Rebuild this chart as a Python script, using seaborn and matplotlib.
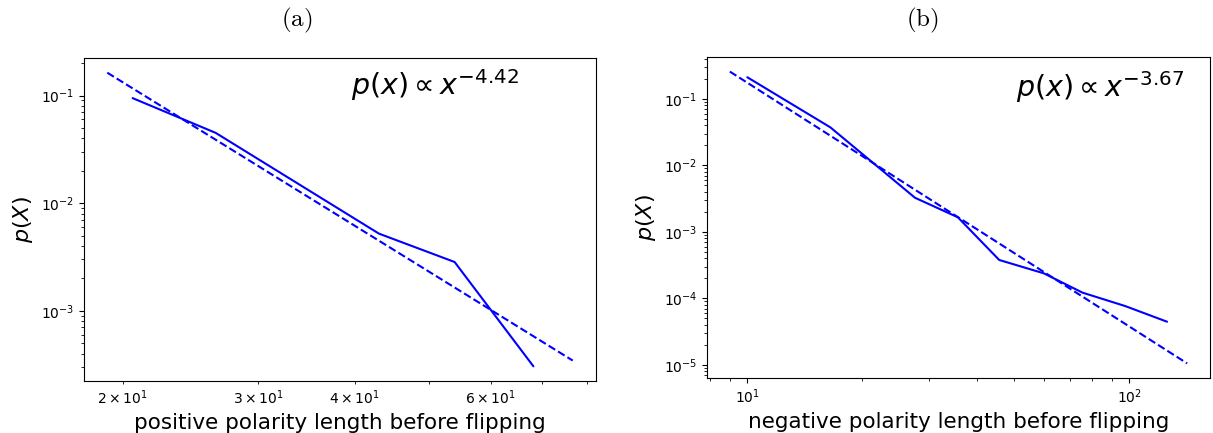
import numpy as np
import matplotlib
matplotlib.use("Agg")
import matplotlib.pyplot as plt
import pandas as pd
import seaborn as sns

# (a) positive polarity: measured distribution and power-law fit
pos_len = [20.6, 26.4, 43.0, 53.9, 68.2]
pos_prob = [0.0946, 0.0450, 5.21e-3, 2.84e-3, 3.05e-4]
pos_fit_len = [19.1, 76.7]
pos_fit_prob = [0.163, 3.45e-4]
pos_exp = "-4.42"

# (b) negative polarity
neg_len = [10.0, 16.5, 27.5, 35.6, 45.7, 59.8, 75.5, 97.7, 125.8]
neg_prob = [0.212, 0.0374, 3.26e-3, 1.66e-3, 3.78e-4, 2.38e-4, 1.22e-4, 7.66e-5, 4.45e-5]
neg_fit_len = [9.0, 142.0]
neg_fit_prob = [0.258, 1.05e-5]
neg_exp = "-3.67"

sns.set_style("ticks")
plt.rcParams["font.family"] = ["DejaVu Sans"]
plt.rcParams["text.color"] = "black"
plt.rcParams["axes.labelcolor"] = "black"
plt.rcParams["xtick.color"] = "black"
plt.rcParams["ytick.color"] = "black"
plt.rcParams["axes.edgecolor"] = "black"

fig = plt.figure(figsize=(12.13, 4.33), dpi=100)
ax1 = fig.add_axes([84/1213, 1-381/433, 512/1213, 323/433])
ax2 = fig.add_axes([707/1213, 1-378/433, 503/1213, 321/433])


def panel(ax, x, y, fx, fy, expo, xlabel, tx, ty):
    df = pd.DataFrame({"len": x, "p": y})
    fit = pd.DataFrame({"len": fx, "p": fy})
    sns.lineplot(data=df, x="len", y="p", ax=ax, color="blue", lw=1.5)
    sns.lineplot(data=fit, x="len", y="p", ax=ax, color="blue", lw=1.5,
                 linestyle="--")
    ax.set_xscale("log")
    ax.set_yscale("log")
    ax.set_xlabel(xlabel, fontsize=15.5)
    ax.set_ylabel(r"$p(X)$", fontsize=16)
    ax.text(tx, ty, r"$p(x) \propto x^{%s}$" % expo, transform=ax.transAxes,
            fontsize=20.5, ha="left", va="center")
    for s in ax.spines.values():
        s.set_linewidth(0.8)
    ax.tick_params(labelsize=10)


panel(ax1, pos_len, pos_prob, pos_fit_len, pos_fit_prob, pos_exp,
      "positive polarity length before flipping", 0.522, 0.915)
panel(ax2, neg_len, neg_prob, neg_fit_len, neg_fit_prob, neg_exp,
      "negative polarity length before flipping", 0.615, 0.905)

fig.text(297/1213, 1-20/433, r"$\mathrm{(a)}$", math_fontfamily="cm",
         fontsize=18, ha="center", va="center")
fig.text(922/1213, 1-20/433, r"$\mathrm{(b)}$", math_fontfamily="cm",
         fontsize=18, ha="center", va="center")

fig.savefig("out.png", dpi=100)
